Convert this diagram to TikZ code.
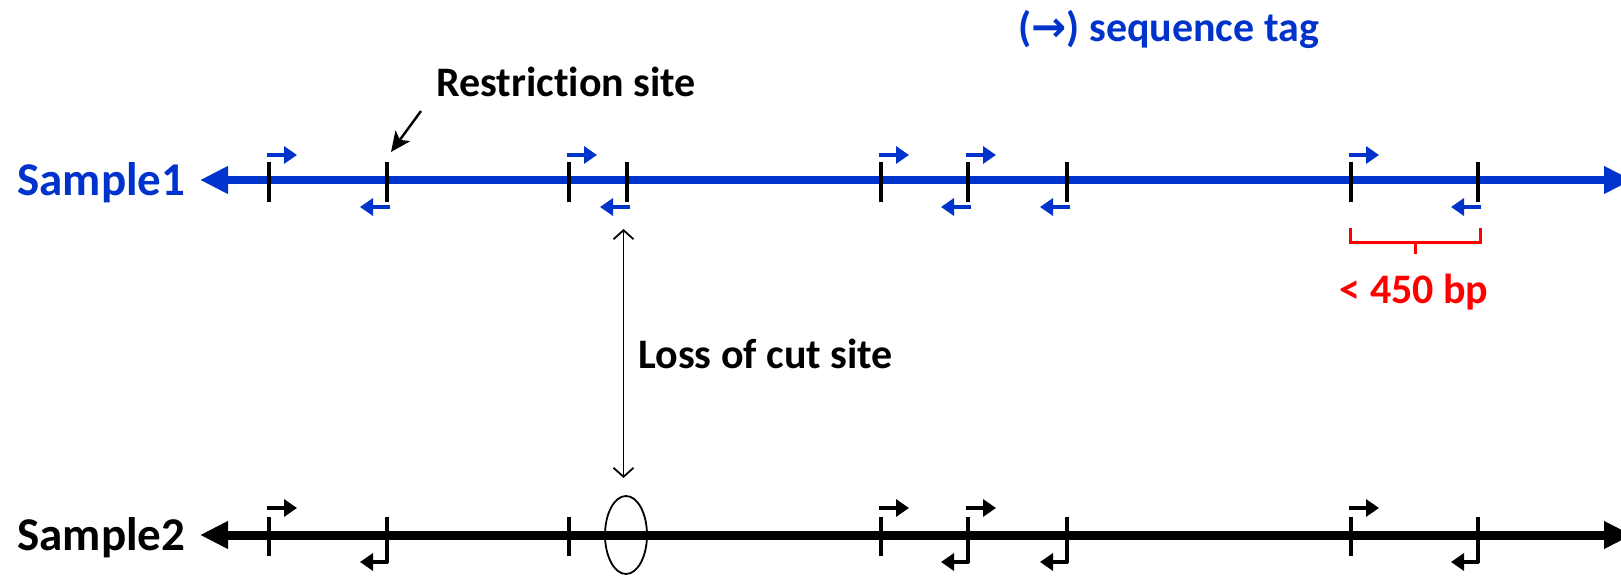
\documentclass[tikz,border=0pt]{standalone}
\usepackage{fontspec}
\setmainfont{Carlito}[Ligatures=NoCommon]
\newfontfamily\symfont{DejaVu Sans}
\usetikzlibrary{arrows.meta,shapes.geometric}
\definecolor{dnablue}{RGB}{0,51,204}
\definecolor{sizered}{RGB}{255,0,0}

\begin{document}
\begin{tikzpicture}[x=0.5pt,y=-0.5pt,
  lbl/.style={font=\fontsize{21}{25}\selectfont\bfseries, inner sep=0pt},
  samplelbl/.style={font=\fontsize{23.5}{28}\selectfont\bfseries, inner sep=0pt},
  strand/.style={line width=#1, {Triangle[length=14pt,width=13pt]}-{Triangle[length=14pt,width=13pt]}},
  cutmark/.style={line width=2pt, black},
  tagarrow/.style={line width=2.4pt, -{Triangle[length=6.5pt,width=8.5pt]}},
  pointer/.style={line width=1.2pt, black, -{Stealth[length=10pt,width=9pt,inset=2.5pt]}},
  span/.style={line width=0.9pt, black, {Straight Barb[length=4.5pt,width=10pt]}-{Straight Barb[length=4.5pt,width=10pt]}},
  bracket/.style={sizered, line width=1.5pt},
]
\useasboundingbox (0,0) rectangle (1621,576);

% ---- labels ----
\node[lbl, text=dnablue, anchor=west] (legend) at (1018,29) {({\symfont\bfseries →}) sequence tag};
\node[lbl, anchor=base west] (rsite) at (436,97) {Restriction site};
\node[samplelbl, text=dnablue, anchor=base west] (s1) at (17,196) {Sample1};
\node[samplelbl, anchor=base west] (s2) at (17,550) {Sample2};
\node[lbl, anchor=base west] (loss) at (638,369) {Loss of cut site};
\node[lbl, text=sizered, anchor=base] (size) at (1414,304) {< 450 bp};

% ---- Sample1 strand ----
\coordinate (a1) at (200,180);
\coordinate (b1) at (1632,180);
\draw[strand=3.6pt, dnablue] (a1) -- (b1);

% cut sites on Sample1
\foreach \x/\n in {269/1,387/2,569/3,627/4,881/5,968/6,1067/7,1351/8,1478/9}{
  \coordinate (t\n) at (\x,162);
  \coordinate (u\n) at (\x,202);
  \draw[cutmark] (t\n) -- (u\n);
}
% forward tags
\foreach \x in {269,569,881,968,1351}{
  \draw[tagarrow, dnablue] (\x-2,155) -- (\x+28,155);
}
% reverse tags
\foreach \x in {387,627,968,1067,1478}{
  \draw[tagarrow, dnablue] (\x+3,207) -- (\x-27,207);
}

% ---- Sample2 strand ----
\coordinate (a2) at (200,535);
\coordinate (b2) at (1632,535);
\draw[strand=4.5pt, black] (a2) -- (b2);

\foreach \x in {269,387,569,881,968,1067,1351,1478}{
  \draw[cutmark] (\x,517) -- (\x,556);
}
% reverse-tag sites reach down to their tag
\foreach \x in {387,968,1067,1478}{
  \draw[cutmark] (\x,555) -- (\x,563);
  \draw[tagarrow, black] (\x+1,562) -- (\x-27,562);
}
\foreach \x in {269,881,968,1351}{
  \draw[tagarrow, black] (\x-2,508) -- (\x+28,508);
}

% the missing site
\node[ellipse, draw, line width=0.9pt, minimum width=21pt, minimum height=39pt, inner sep=0pt] (lost) at (626,535) {};

% ---- annotations ----
\coordinate (rs) at (421,111);
\draw[pointer] (rs) -- (391,152);
\coordinate (gaptop) at (623.5,229);
\draw[span] (gaptop) -- (623.5,478);

% size bracket
\coordinate (br1) at (1350,228);
\coordinate (br2) at (1480,228);
\draw[bracket] (br1) -- (1350,243) -- (1480,243) -- (br2);
\draw[bracket] (1415,243) -- (1415,254);
\end{tikzpicture}
\end{document}
